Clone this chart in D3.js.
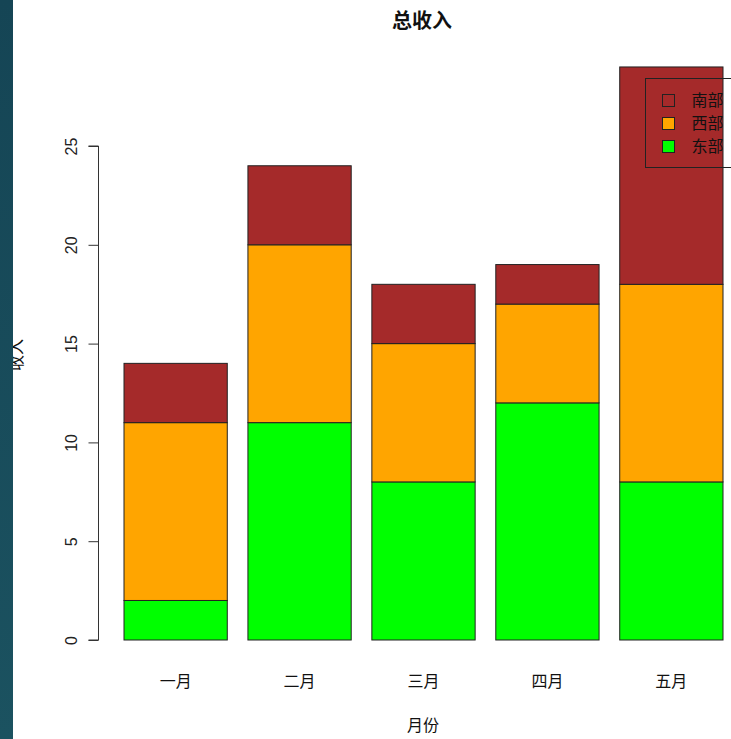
<!DOCTYPE html>
<html>
<head>
<meta charset="utf-8">
<script src="https://cdn.jsdelivr.net/npm/d3@7"></script>
<style>
  html, body { margin: 0; padding: 0; background: #fff; overflow: hidden; }
  svg { display: block; font-family: "Noto Sans CJK SC", "Noto Sans", sans-serif; }
</style>
</head>
<body>
<svg id="chart" width="731" height="739"></svg>
<script>
// ── Data ────────────────────────────────────────────────
const months = ['一月', '二月', '三月', '四月', '五月'];
const regions = ['东部', '西部', '南部'];            // stacking order, bottom -> top
const east  = [2, 11, 8, 12, 8];
const west  = [9, 9, 7, 5, 10];
const south = [3, 4, 3, 2, 11];
const regionColors = ['#00ff00', '#ffa500', '#a52a2a'];
const yTicks = [0, 5, 10, 15, 20, 25];

const svg = d3.select('#chart');
const W = 731, H = 739;

// R-style barplot scales: bars of width 1 with space 0.2
const x = d3.scaleLinear().domain([0.2, 6.0]).range([124, 723]);
const y = d3.scaleLinear().domain([0, 25]).range([640, 146]);

const rows = months.map((m, i) => ({ month: m, '东部': east[i], '西部': west[i], '南部': south[i] }));
const stacked = d3.stack().keys(regions)(rows);

// ── Bars ────────────────────────────────────────────────
stacked.forEach((layer, k) => {
  svg.append('g').selectAll('rect')
    .data(layer)
    .join('rect')
    .attr('x', (d, i) => x(0.2 + i * 1.2))
    .attr('width', x(1.2) - x(0.2))
    .attr('y', d => y(d[1]))
    .attr('height', d => y(d[0]) - y(d[1]))
    .attr('fill', regionColors[k])
    .attr('stroke', '#222')
    .attr('stroke-width', 1);
});

// ── Y axis ──────────────────────────────────────────────
const yAxis = d3.axisLeft(y).tickValues(yTicks).tickSize(10).tickFormat(d3.format('d'));
const ga = svg.append('g').attr('transform', 'translate(98.5,0)').call(yAxis);
ga.select('.domain').attr('stroke', '#333').attr('d', `M-10,${y(0)}H0V${y(25)}H-10`);
ga.selectAll('.tick line').attr('stroke', '#333');
ga.selectAll('.tick text')
  .attr('font-size', 16).attr('fill', '#222')
  .attr('x', null).attr('dy', null)
  .attr('text-anchor', 'middle')
  .attr('transform', 'translate(-27,0) rotate(-90)')
  .attr('dy', '0.35em');

// x labels
svg.append('g').selectAll('text')
  .data(months)
  .join('text')
  .attr('x', (d, i) => x(0.7 + i * 1.2))
  .attr('y', 687)
  .attr('text-anchor', 'middle')
  .attr('font-size', 16)
  .attr('fill', '#111')
  .text(d => d);

// titles
svg.append('text')
  .attr('x', 422).attr('y', 28)
  .attr('text-anchor', 'middle')
  .attr('font-size', 20).attr('font-weight', 'bold')
  .attr('fill', '#111')
  .text('总收入');

svg.append('text')
  .attr('x', 423).attr('y', 731)
  .attr('text-anchor', 'middle')
  .attr('font-size', 16).attr('fill', '#111')
  .text('月份');

svg.append('text')
  .attr('transform', 'translate(22,355) rotate(-90)')
  .attr('text-anchor', 'middle')
  .attr('font-size', 16).attr('fill', '#111')
  .text('收入');

// ── Legend ──────────────────────────────────────────────
const lg = svg.append('g').attr('transform', 'translate(645.5,78.5)');
lg.append('rect')
  .attr('width', 140).attr('height', 89)
  .attr('fill', 'none').attr('stroke', '#222');
const legendItems = regions.slice().reverse().map((r, i) => ({ name: r, color: regionColors[2 - i] }));
legendItems.forEach((d, i) => {
  lg.append('rect')
    .attr('x', 17).attr('y', 16 + i * 23)
    .attr('width', 12).attr('height', 12)
    .attr('fill', d.color).attr('stroke', '#222');
  lg.append('text')
    .attr('x', 46).attr('y', 22 + i * 23)
    .attr('dy', '0.35em')
    .attr('font-size', 16).attr('fill', '#111')
    .text(d.name);
});

// ── Left dark strip (slide edge) ────────────────────────
const defs = svg.append('defs');
const grad = defs.append('linearGradient').attr('id', 'strip').attr('x1', 0).attr('y1', 0).attr('x2', 0).attr('y2', 1);
grad.append('stop').attr('offset', '0%').attr('stop-color', '#154555');
grad.append('stop').attr('offset', '100%').attr('stop-color', '#1b5260');
svg.append('rect').attr('x', 0).attr('y', 0).attr('width', 13).attr('height', H).attr('fill', 'url(#strip)');
</script>
</body>
</html>
